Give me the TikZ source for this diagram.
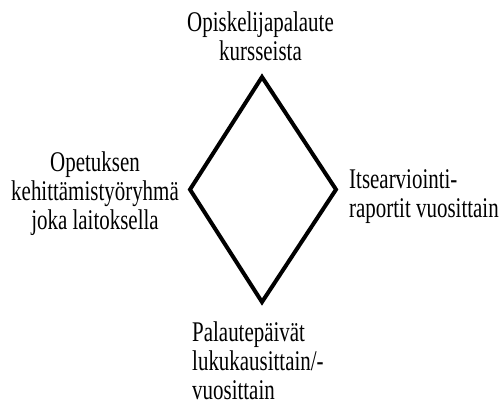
\documentclass[tikz,border=0pt]{standalone}
\usepackage{fontspec}
\setmainfont{Liberation Serif}[FakeStretch=0.735]
\usetikzlibrary{calc}

\begin{document}
\begin{tikzpicture}[x=1pt,y=-1pt,
    lbl/.style={inner sep=0pt,font=\fontsize{28.5}{29}\selectfont}]
        \useasboundingbox (0,0) rectangle (500,405);

        % Vertices of the diamond
        \coordinate (T) at (262, 77);
        \coordinate (R) at (336, 189.5);
        \coordinate (B) at (262, 302);
        \coordinate (L) at (190, 189.5);

        \draw[line width=4pt, line join=miter] (T) -- (R) -- (B) -- (L) -- cycle;

        % Labels
        \node[lbl, anchor=north, align=center] (top) at (260.5, 11.5) {Opiskelijapalaute\\kursseista};
        \node[lbl, anchor=north, align=center] (left) at (95, 151.5) {Opetuksen\\kehittämistyöryhmä\\joka laitoksella};
        \node[lbl, anchor=north west, align=left] (right) at (349, 169) {Itsearviointi-\\raportit vuosittain};
        \node[lbl, anchor=north west, align=left] (bottom) at (192, 321.5) {Palautepäivät\\lukukausittain/-\\vuosittain};

    \end{tikzpicture}
\end{document}
